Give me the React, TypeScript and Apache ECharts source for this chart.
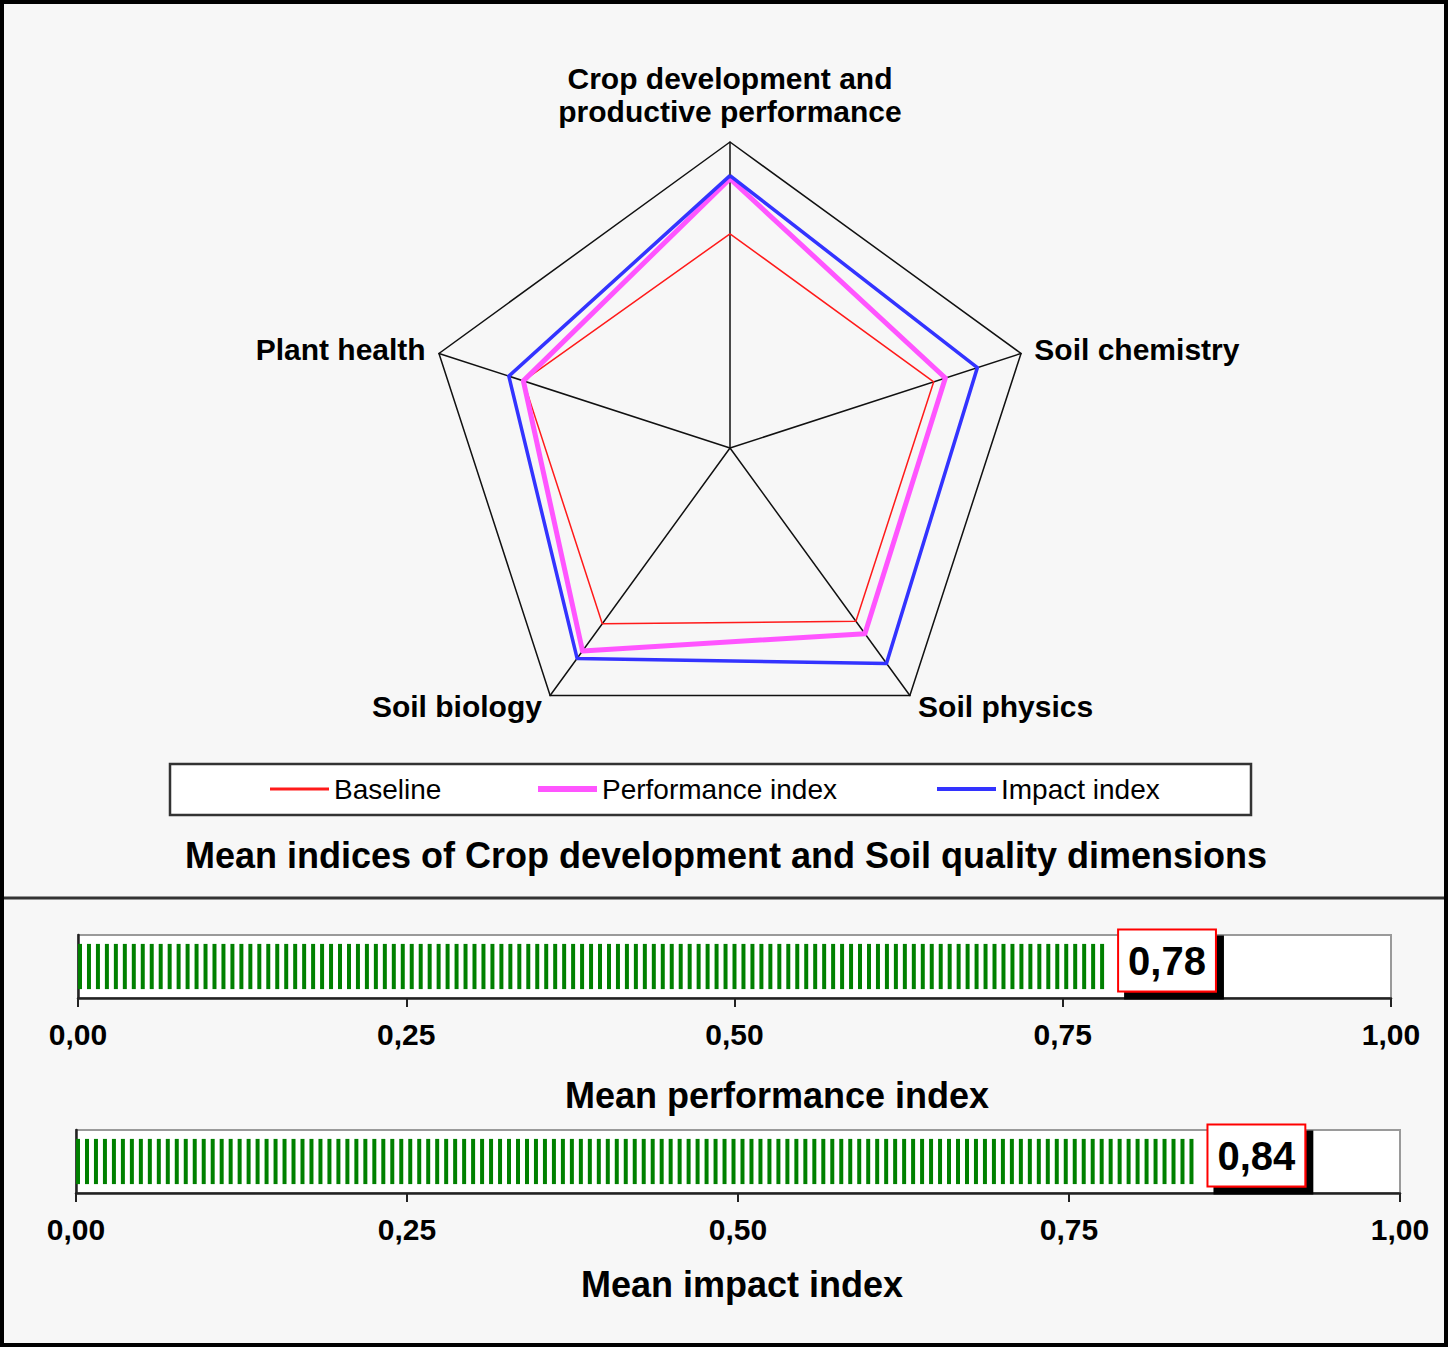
import { useEffect, useRef } from "react";
import * as echarts from "echarts";

const FONT = '"Liberation Sans", Arial, sans-serif';

// ---- data ----
const indicatorNames = [
  "Crop development and\nproductive performance",
  "Plant health",
  "Soil biology",
  "Soil physics",
  "Soil chemistry",
];
const seriesNames = ["Baseline", "Performance index", "Impact index"];
const baseline = [0.7, 0.71, 0.71, 0.7, 0.7];
const performance = [0.88, 0.71, 0.82, 0.75, 0.74];
const impact = [0.89, 0.76, 0.85, 0.87, 0.85];
const meanPerformance = [0.78];
const meanImpact = [0.84];
const barCategories = ["Mean performance index", "Mean impact index"];
const mainTitle = "Mean indices of Crop development and Soil quality dimensions";

const fmt = (v: number) => v.toFixed(2).replace(".", ",");

const COLORS = ["#ff1a1a", "#ff55ff", "#3333ff"];
const WIDTHS = [1.5, 5, 3.5];
const LEGEND_H = [3, 6, 4];
const LEGEND_X = [270, 538, 937];

function buildOption() {
  const seriesValues = [baseline, performance, impact];

  const valueLabel = {
    show: true,
    position: "right",
    distance: 15,
    offset: [0, -6],
    formatter: (p: any) => fmt(p.value),
    fontSize: 40,
    fontWeight: "bold",
    fontFamily: FONT,
    color: "#000",
    backgroundColor: "#fff",
    borderColor: "#ff0000",
    borderWidth: 2,
    padding: [10, 9, 10, 9],
    shadowColor: "#000",
    shadowOffsetX: 7,
    shadowOffsetY: 7,
    shadowBlur: 0,
  };

  const grids = [
    { left: 78, top: 935, width: 1313, height: 63 },
    { left: 76, top: 1130, width: 1324, height: 63 },
  ];

  const titleStyle = { fontSize: 36, fontWeight: "bold", color: "#000", fontFamily: FONT };

  return {
    animation: false,
    backgroundColor: "#f7f7f7",
    textStyle: { fontFamily: FONT },
    title: [
      { text: mainTitle, left: 726, top: 837, textAlign: "center", padding: 0, textStyle: titleStyle },
      { text: barCategories[0], left: 777, top: 1077, textAlign: "center", padding: 0, textStyle: titleStyle },
      { text: barCategories[1], left: 742, top: 1266, textAlign: "center", padding: 0, textStyle: titleStyle },
    ],
    legend: seriesNames.map((name, i) => ({
      data: [name],
      left: LEGEND_X[i],
      top: 775,
      padding: 0,
      icon: "rect",
      itemWidth: 59,
      itemHeight: LEGEND_H[i],
      selectedMode: false,
      z: 5,
      textStyle: { fontSize: 28, color: "#000", fontFamily: FONT },
    })),
    radar: {
      center: [730, 448],
      radius: 306,
      startAngle: 90,
      splitNumber: 1,
      shape: "polygon",
      nameGap: 14,
      indicator: indicatorNames.map((name) => ({ name, min: 0, max: 1 })),
      axisName: {
        color: "#000",
        fontSize: 30,
        fontWeight: "bold",
        fontFamily: FONT,
        lineHeight: 33,
      },
      axisLine: { lineStyle: { color: "#111", width: 1.5 } },
      splitLine: { lineStyle: { color: "#111", width: 1.5 } },
      splitArea: { show: false },
      axisTick: { show: false },
      axisLabel: { show: false },
    },
    grid: grids.map((g) => ({
      ...g,
      show: true,
      backgroundColor: "#ffffff",
      borderColor: "#9a9a9a",
      borderWidth: 2,
    })),
    xAxis: grids.map((_, i) => ({
      type: "value",
      gridIndex: i,
      min: 0,
      max: 1,
      interval: 0.25,
      axisLine: { show: true, lineStyle: { color: "#222", width: 2.5 } },
      axisTick: { show: true, length: 9, lineStyle: { color: "#222", width: 2 } },
      axisLabel: {
        fontSize: 30,
        fontWeight: "bold",
        color: "#000",
        fontFamily: FONT,
        margin: 21,
        formatter: (v: number) => fmt(v),
      },
      splitLine: { show: false },
    })),
    yAxis: grids.map((_, i) => ({
      type: "category",
      gridIndex: i,
      data: [barCategories[i]],
      axisLine: { show: true, lineStyle: { color: "#222", width: 2.5 } },
      axisTick: { show: false },
      axisLabel: { show: false },
    })),
    series: [
      {
        type: "radar",
        symbol: "none",
        z: 3,
        data: seriesNames.map((name, i) => ({
          name,
          value: seriesValues[i],
          lineStyle: { color: COLORS[i], width: WIDTHS[i] },
          itemStyle: { color: COLORS[i] },
        })),
      },
      {
        type: "pictorialBar",
        xAxisIndex: 0,
        yAxisIndex: 0,
        data: meanPerformance,
        symbol: "rect",
        symbolRepeat: true,
        symbolSize: [4, 45],
        symbolMargin: 2.5,
        itemStyle: { color: "#008000" },
        label: valueLabel,
        z: 3,
      },
      {
        type: "pictorialBar",
        xAxisIndex: 1,
        yAxisIndex: 1,
        data: meanImpact,
        symbol: "rect",
        symbolRepeat: true,
        symbolSize: [4, 45],
        symbolMargin: 2.5,
        itemStyle: { color: "#008000" },
        label: valueLabel,
        z: 3,
      },
    ],
    graphic: [
      {
        type: "rect",
        z: 1,
        silent: true,
        shape: { x: 170, y: 764, width: 1081, height: 51 },
        style: { fill: "#ffffff", stroke: "#333", lineWidth: 2.5 },
      },
      {
        type: "line",
        z: 1,
        silent: true,
        shape: { x1: 0, y1: 898, x2: 1448, y2: 898 },
        style: { stroke: "#333", lineWidth: 3 },
      },
      {
        type: "rect",
        z: 10,
        silent: true,
        shape: { x: 2, y: 2, width: 1444, height: 1343 },
        style: { fill: "none", stroke: "#000", lineWidth: 4 },
      },
    ],
  };
}

export default function App() {
  const ref = useRef<HTMLDivElement>(null);
  useEffect(() => {
    if (!ref.current) return;
    const chart = echarts.init(ref.current, null, { renderer: "svg" });
    chart.setOption(buildOption() as any);
    return () => chart.dispose();
  }, []);
  return (
    <div
      ref={ref}
      style={{ position: "fixed", left: 0, top: 0, width: 1448, height: 1347, background: "#fff" }}
    />
  );
}
